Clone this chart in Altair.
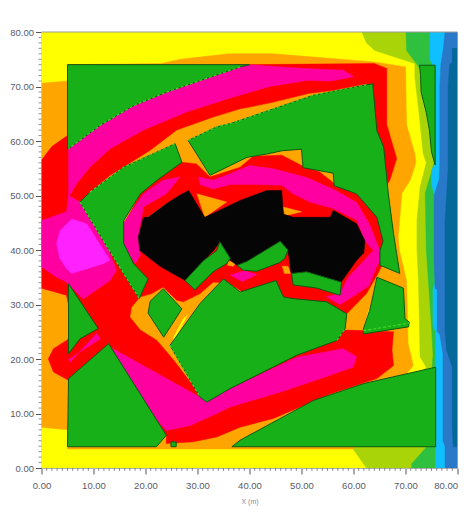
import altair as alt
import pandas as pd

YELLOW, ORANGE, RED, PINK, BRIGHT = "#ffff00", "#ffa500", "#ff0000", "#ff00a0", "#ff22ff"
GREEN, BLACK = "#18b018", "#050505"
YGREEN, LGREEN, CYAN, BLUE, TEAL = "#a8d408", "#30c040", "#10bfff", "#2a78c8", "#04689a"
EDGE = "#0c5a10"
GLOW = "#46d82c"

frame = [(0,0),(80,0),(80,80),(0,80)]
band_ygreen = [(61.6,80),(62.5,78),(64.1,76.6),(71.8,74.2),(71.8,71.7),(72.5,66),(73.4,57.7),(74,56),(72.8,51.5),(72.2,45.4),(72.2,40),(72.5,34.4),(72.8,20.4),(74,18.5),(59.6,3.9),(62.5,0),(80,0),(80,80)]
band_lgreen = [(70.1,80),(70.2,76.6),(72.1,74.2),(75,70),(75.5,56),(73.8,50.4),(74,40),(75,26),(75.3,20.8),(74.1,3.9),(71.2,0.8),(71.2,0),(80,0),(80,80)]
band_cyan = [(74.7,80),(74.7,75),(75.7,73),(75.7,56),(75,54.5),(75,52),(75.6,50),(75.7,46),(75.7,34),(75.3,33),(75.3,26),(75.8,25),(75.8,0),(80,0),(80,80)]
band_blue = [(77.6,80),(77.3,77),(76.8,74),(76.6,70),(76.6,56),(76.5,53),(75.5,50),(75.5,38),(75.7,33),(76.1,32.6),(76.1,25),(76.6,24.5),(77.2,21),(77.2,5),(77.6,4),(77.6,0),(80,0),(80,80)]
band_teal = [(80,77),(79,77),(79,74.5),(78.5,74),(78.2,70),(78.2,55),(77.9,50),(77.6,45),(77.6,25),(77.9,21.6),(79,18.5),(79,7.5),(79.2,3.9),(80,3.9)]

orange_base = [(0,70.6),(5,71),(5,74),(23,74.2),(26.7,75),(36,76),(44.6,76),(64,74.5),(70,73.6),(70.2,63),(71.8,57.6),(72,56),(70.9,52.8),(69.3,50.4),(68.6,42.4),(68.8,40),(70.2,34.4),(70.5,22.8),(71.5,18.8),(70,17),(60,3.5),(5,3.5),(5,7),(0,7.5)]
red_big = [(0,56.5),(2,59),(5,61),(5,74),(39,74),(64,74.2),(66.4,73.3),(66.4,63),(68.3,56.8),(67,52.8),(65,50),(63,60),(62.5,70.5),(56.1,69.3),(51.3,68.7),(44,67),(38.2,65.9),(33,64.4),(26,62),(20.9,58.3),(13.2,53.7),(9.3,50.6),(14,43),(18,33),(19,31.4),(17.3,29.5),(17,27.7),(19,25.3),(22.2,23.4),(25.4,19.8),(30.5,13.4),(58.5,25.3),(67.7,25),(67.4,21.6),(67.7,18.8),(64.5,16.4),(55.5,13.6),(44.6,9.1),(38.2,7.5),(33.7,5.7),(29.2,4.8),(24,4.5),(24,6),(12.9,22.8),(5.2,16.1),(2.3,17.6),(1.3,20),(2.3,21.9),(4.8,23.4),(5.5,24),(5.2,30),(4.8,31.7),(0,33)]
pink_upper = [(5.2,58.6),(5.2,49.7),(6.8,52.2),(9.3,55.2),(13.2,58.6),(19.6,62),(27.9,65.3),(36.3,67.9),(43.9,70),(51,71.1),(55.7,71),(60,71.8),(58.1,73),(50.7,73.3),(45.9,73.6),(40,74),(38,74),(20,70),(5.2,60)]
pink_blob = [(0,45.4),(4.8,47),(5.2,50),(7.4,48.8),(12.9,40),(14.4,36.3),(13.2,34.4),(8,31),(4.8,34.1),(2.9,35),(0,36.9)]
bright_blob = [(5.8,45.7),(3.6,43.6),(2.9,41.2),(3.5,38.5),(4.8,36.6),(5.8,35.7),(11.9,37.5),(13.2,38.1),(8.7,44.8)]
pink_lower = [(13.5,22),(30.5,13),(36.3,14.6),(49.1,20.3),(58,21.9),(60.6,20.4),(59.9,18.5),(55.5,17),(47.2,14.3),(36.3,11.2),(33.7,10),(28.6,7.8),(24,6.9),(20,11)]
pink_sliver = [(5.5,19.4),(10.6,24.7),(11.3,23.7),(5.2,19.9)]
red_ring = [(27,56.1),(29.8,55.8),(32.4,53.4),(38.2,55.2),(40.7,57.2),(46.2,57.4),(50,55.5),(53.5,54.3),(56.3,52.2),(62,49.7),(64.5,46),(65.7,43),(66,38.2),(64.7,35.7),(62.5,32),(58.7,28.3),(50,25),(36,34),(33,34.1),(30.5,32),(27.3,30.5),(26,30.8),(23.4,33.2),(21.2,32),(19,31.4),(18,35),(16,45),(19,50.3),(22.2,52.8)]
pink_ring_left = [(26.6,53.4),(23.4,52.8),(19.6,50.3),(15.8,45),(15.8,41),(18,37.5),(19,39),(18.6,42.4),(19.6,47.9),(24,50.3)]
pink_ring_right = [(30.2,53.4),(33,52.8),(36.3,54),(40,55.5),(44.6,54.9),(51,53.3),(56.6,50.9),(60.6,48.7),(63.1,44.7),(65,40),(65.1,38),(64.4,36.9),(63,33.5),(60,31.5),(57.4,30),(54.8,31.4),(57.4,32),(59,35),(63.8,39.9),(62.2,41.7),(60.6,45.5),(56.1,47.6),(51.6,48.8),(48.4,50.3),(46.2,51.9),(41.4,52),(36.3,52),(33,51.2),(30.5,52)]
pink_notch = [(36.3,35.4),(38.6,34.2),(41.4,35.5),(39,36.2)]
orange_notch_a = [(20.5,46),(24,48.5),(22.2,46.5)]
orange_notch_b = [(29.9,50.3),(31.4,46),(35.6,48.8)]
orange_notch_c = [(46.5,47.9),(46.8,46.3),(50,47)]
orange_notch_d = [(46.3,37),(47.4,37),(47.9,35.7),(46.7,35.7)]
orange_notch_e = [(36,38),(37.3,37.6),(36.9,37),(35.8,37.2)]
yellow_sliver_a = [(25.4,24),(27.3,27.4),(28,28),(26.7,25.6),(25.4,23.4)]
yellow_sliver_b = [(62,25),(62.9,29),(63.4,29),(62.6,25)]
black_core = [(28.3,50.9),(31.4,46),(38.2,49.1),(43.3,50.9),(46.2,50.9),(46.5,46.6),(48.4,46),(55.5,46),(56.1,47.3),(60.6,44.8),(62.2,41.7),(62,39.5),(60.6,38.1),(57.4,33.8),(51,36),(48,35.7),(47.4,40),(45.9,41.6),(39.5,37.9),(37.6,37.2),(36.3,38.1),(34.3,41.5),(33.1,39.9),(31.1,38),(27.6,34.4),(22.8,37),(18.9,39.9),(18.6,42.4),(19.6,46),(20.5,46),(24,48.5),(26.5,50)]

g_topleft = [(5,74),(40,74),(38.2,73.6),(30.5,71.1),(24.1,69),(17.7,66.5),(11.3,62.9),(5.2,58.6),(5,58.5)]
g_center = [(28.2,60.1),(33.7,62.6),(36.3,63.2),(38.2,63.8),(44.6,65.9),(52.3,68.4),(62.5,70.3),(63.7,70.5),(64.5,61.9),(65.8,58.9),(66.7,50.3),(67.7,43),(68.3,39.3),(68.9,35.7),(65.1,37.2),(65.1,40),(65.7,41.6),(64.5,46),(60.6,50.3),(56.3,51.8),(56.1,54.1),(50.3,55.1),(50,58.5),(46.2,58.2),(43.3,57.6),(39.5,57),(36.3,55.5),(32.4,53.7)]
g_left = [(7.4,48.8),(9.3,50.6),(15.8,55.2),(25.7,59.5),(27,56.1),(22.2,52.8),(19,50.3),(15.8,45.4),(15.8,41.2),(17.7,37.5),(20.5,34.7),(18.8,31.1),(13,40)]
g_tri_left = [(5.2,33.8),(10.9,25.6),(7.4,23.7),(5.2,21)]
g_tri_low = [(5.2,16.4),(12.9,22.8),(24,6),(22.1,3.9),(5,3.9)]
g_diamond = [(23.4,32.9),(27,29.2),(23.5,24),(20.5,28.4),(20.9,30.6)]
g_lower = [(24.7,22.5),(30.5,30.2),(35,34.7),(38.2,32.3),(45.1,34.4),(46.5,31.4),(48.1,31.1),(54.8,30.5),(58.7,28.3),(58.4,25.6),(56.8,23.4),(49.1,20.7),(36.3,14.6),(31.8,12.1),(30.5,13)]
g_corner = [(36.6,3.9),(38.2,5.1),(52.3,12.4),(62,15.5),(75.8,18.5),(75.8,3.9)]
g_tiny = [(24.9,3.9),(25.9,3.9),(25.9,4.8),(24.9,4.8)]
g_right = [(72.7,73.9),(75.7,73.9),(75.7,55.6),(75,58),(74.6,62),(74,65.2),(73,69),(72.9,72)]
g_tri_right = [(64.5,35),(69.6,33),(69.9,27.4),(70.7,26.8),(70.6,25.9),(61.9,24.6),(61.9,25.5),(63.2,29.2)]
g_wedge_a = [(27.6,34.4),(31.1,38),(33.7,39.9),(34.3,41.5),(36.3,38.5),(35.6,37.5),(33,36),(29.5,32.7)]
g_wedge_b = [(37.6,37.2),(39.5,37.9),(45.9,41.6),(47.4,40),(46.8,38.5),(45.8,37.7),(41.4,36.1),(38.8,36.3)]
g_wedge_c = [(48.1,35.7),(51,36),(57.7,34.1),(57.4,31.7),(53,33),(48.4,33.6)]

glow_arc_top = [(38.2,73.6),(30.5,71.1),(24.1,69),(17.7,66.5),(11.3,62.9),(5.2,58.6)]
glow_arc_center = [(28.2,60.1),(33.7,62.6),(36.3,63.2),(38.2,63.8),(44.6,65.9),(52.3,68.4),(62.5,70.3)]
glow_left_top = [(9.3,50.6),(15.8,55.2),(25.7,59.5)]
glow_left_side = [(7.4,48.8),(13,40),(18.8,31.1)]
glow_lower_side = [(24.7,22.5),(30.5,13)]
glow_corner_a = [(56.8,23.4),(58.4,25.6)]
glow_tri_right = [(61.9,25.2),(70.7,26.6)]

fills = [
    (frame, YELLOW), (band_ygreen, YGREEN), (band_lgreen, LGREEN), (band_cyan, CYAN), (band_blue, BLUE), (band_teal, TEAL),
    (orange_base, ORANGE), (red_big, RED), (pink_upper, PINK), (pink_blob, PINK), (bright_blob, BRIGHT),
    (pink_lower, PINK), (pink_sliver, PINK), (red_ring, RED), (pink_ring_left, PINK), (pink_ring_right, PINK),
    (pink_notch, PINK), (orange_notch_a, ORANGE), (orange_notch_b, ORANGE), (orange_notch_c, ORANGE),
    (orange_notch_d, ORANGE), (orange_notch_e, ORANGE), (yellow_sliver_a, YELLOW), (yellow_sliver_b, YELLOW), (black_core, BLACK),
]
greens = [g_topleft, g_center, g_left, g_tri_left, g_tri_low, g_diamond, g_lower, g_corner, g_tiny, g_right, g_tri_right, g_wedge_a, g_wedge_b, g_wedge_c]
glows = [glow_arc_top, glow_arc_center, glow_left_top, glow_left_side, glow_lower_side, glow_corner_a, glow_tri_right]

major_ticks = [0, 10, 20, 30, 40, 50, 60, 70, 80]
minor_ticks = [v for v in range(0, 81) if v % 10]

xs = alt.Scale(domain=[0, 80], nice=False, zero=False)
ys = alt.Scale(domain=[0, 80], nice=False, zero=False)
W, H = 416, 436

lab = dict(format=".2f", values=major_ticks, tickSize=6, tickColor="#555555", domainColor="#b0b0b0", domainWidth=1,
           labelColor="#5a5a66", labelFontSize=9.5, labelFont="Liberation Sans", grid=False, labelFlush=False, labelOverlap=False)
xaxis = alt.Axis(title="X (m)", titleFontSize=7, titleFontWeight="normal", titleColor="#8a8a95", titlePadding=8, titleFont="Liberation Sans", labelPadding=6,
                 labelAlign=alt.expr("datum.value == 80 ? 'right' : 'center'"), **lab)
yaxis = alt.Axis(title=None, labelPadding=2, **lab)
XE = lambda f: alt.X(f, scale=xs, axis=xaxis, title="X (m)")
YE = lambda f: alt.Y(f, scale=ys, axis=yaxis, title=None)

def frame_of(points):
    return pd.DataFrame({"x": [p[0] for p in points], "y": [p[1] for p in points], "i": list(range(len(points)))})

def poly(points, color, stroke=None, sw=0.5):
    df = frame_of(list(points) + [points[0]])
    return alt.Chart(df).mark_line(fill=color, stroke=stroke or color, strokeWidth=sw, interpolate="linear", clip=True, strokeJoin="miter").encode(
        x=XE("x:Q"), y=YE("y:Q"), order=alt.Order("i:Q"),
    )

def glow(points):
    return alt.Chart(frame_of(points)).mark_line(stroke=GLOW, strokeWidth=1.1, strokeDash=[3, 2], interpolate="linear", clip=True).encode(
        x=XE("x:Q"), y=YE("y:Q"), order=alt.Order("i:Q"),
    )

layers = [poly(p, c) for p, c in fills] + [poly(p, GREEN, EDGE, 1) for p in greens] + [glow(p) for p in glows]

mt = pd.DataFrame({"v": minor_ticks})
minor_x = alt.Chart(mt).mark_rule(color="#666666", strokeWidth=1, opacity=0.7).encode(
    x=XE("v:Q"), y=alt.value(H), y2=alt.value(H + 3))
minor_y = alt.Chart(mt).mark_rule(color="#666666", strokeWidth=1, opacity=0.7).encode(
    y=YE("v:Q"), x=alt.value(-3), x2=alt.value(0))
border = alt.Chart(pd.DataFrame({"x": [80]})).mark_rule(color="#9a9a9a", strokeWidth=1).encode(
    x=XE("x:Q"), y=alt.value(0), y2=alt.value(H))
border_top = alt.Chart(pd.DataFrame({"y": [80]})).mark_rule(color="#9a9a9a", strokeWidth=1).encode(
    y=YE("y:Q"), x=alt.value(0), x2=alt.value(W))

chart = alt.layer(*layers, minor_x, minor_y, border, border_top).properties(
    width=W, height=H, padding={"left": 33.5, "top": 24, "right": 5, "bottom": 42},
    autosize=alt.AutoSizeParams(type="none"),
).configure_view(stroke=None)

chart.save("out.html", embed_options={"renderer": "svg", "actions": False})
